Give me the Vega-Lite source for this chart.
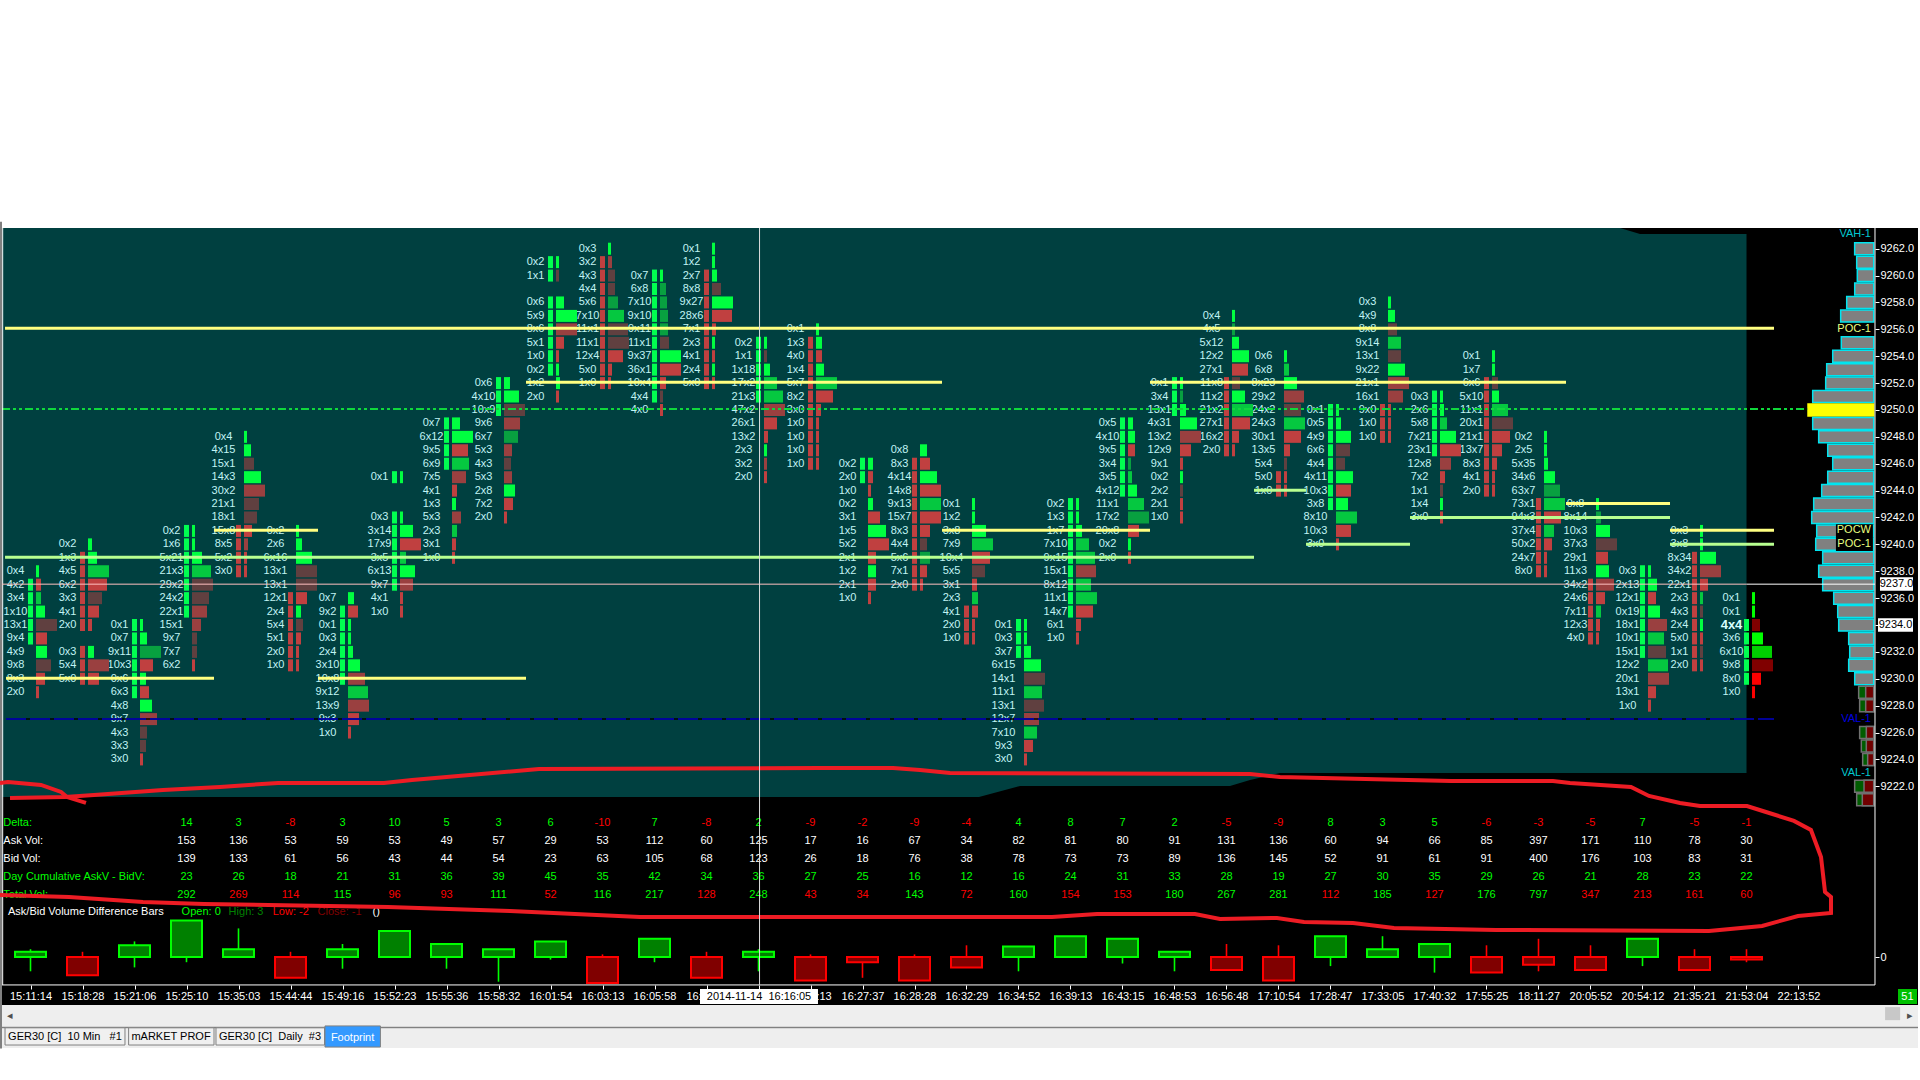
{"$schema":"https://vega.github.io/schema/vega-lite/v6.json","width":1920,"height":1080,"padding":0,"autosize":"none","background":"white",
"config":{"view":{"stroke":null},"text":{"font":"Liberation Sans","fontSize":11},"axis":{"labelFont":"Liberation Sans","labelFontSize":11,"labelColor":"#ffffff","tickColor":"#ffffff","title":null,"grid":false,"domain":false}},
"datasets":{
"chrome":[{"b":-0.587,"e":-0.548,"p":9264,"p2":9202.5,"k":"edge"},{"b":-0.548,"e":36.298,"p":9263.54,"p2":9205.73,"k":"panel"},{"b":-0.548,"e":36.298,"p":9205.73,"p2":9204.1,"k":"scroll"},{"b":-0.548,"e":36.298,"p":9204.1,"p2":9203.98,"k":"edge"},{"b":-0.548,"e":36.298,"p":9203.98,"p2":9202.53,"k":"scroll"},{"b":35.665,"e":35.954,"p":9205.57,"p2":9204.6,"k":"thumb"},{"b":35.913,"e":36.279,"p":9206.92,"p2":9205.8,"k":"count"}],
"teal":[{"b":-0.548,"p":9263.54,"p2":9221.2},{"b":18.24,"p":9263.54,"p2":9221.2},{"b":19.029,"p":9263.54,"p2":9222.02},{"b":23.067,"p":9263.54,"p2":9222.02},{"b":23.452,"p":9263.54,"p2":9222.46},{"b":24.029,"p":9263.54,"p2":9222.99},{"b":30.567,"p":9263.54,"p2":9222.99},{"b":30.952,"p":9263.09,"p2":9222.99},{"b":33.0,"p":9263.09,"p2":9222.99}],
"tabs":[{"b":-0.49,"e":1.817,"p":9204.03,"p2":9202.75,"k":"tab"},{"b":1.887,"e":3.529,"p":9204.03,"p2":9202.75,"k":"tab"},{"b":3.567,"e":5.654,"p":9204.03,"p2":9202.75,"k":"tab"},{"b":5.663,"e":6.729,"p":9204.17,"p2":9202.6,"k":"active"}],
"notes":[{"b":0.663,"p":9203.35,"t":"GER30 [C]\u00a0\u00a010 Min\u00a0\u00a0\u00a0#1","k":"black"},{"b":2.702,"p":9203.35,"t":"mARKET PROF","k":"black"},{"b":4.606,"p":9203.35,"t":"GER30 [C]\u00a0\u00a0Daily\u00a0\u00a0#3","k":"black"},{"b":6.194,"p":9203.3,"t":"Footprint","k":"white"},{"b":-0.394,"p":9204.91,"t":"◂","k":"gray"},{"b":36.144,"p":9204.91,"t":"▸","k":"gray"},{"b":36.096,"p":9206.35,"t":"51","k":"white"},{"b":12.76,"p":9206.35,"t":"16:","k":"white"},{"b":15.26,"p":9206.35,"t":":13","k":"white"}],
"profile":[{"b":35.08,"p":9262,"k":"vol"},{"b":35.119,"p":9261,"k":"vol"},{"b":35.131,"p":9260,"k":"vol"},{"b":35.081,"p":9259,"k":"vol"},{"b":34.927,"p":9258,"k":"vol"},{"b":34.811,"p":9257,"k":"vol"},{"b":34.823,"p":9255,"k":"vol"},{"b":34.658,"p":9254,"k":"vol"},{"b":34.542,"p":9253,"k":"vol"},{"b":34.523,"p":9252,"k":"vol"},{"b":34.273,"p":9251,"k":"vol"},{"b":34.183,"p":9250,"k":"poc"},{"b":34.273,"p":9249,"k":"vol"},{"b":34.388,"p":9248,"k":"vol"},{"b":34.562,"p":9247,"k":"vol"},{"b":34.658,"p":9246,"k":"vol"},{"b":34.562,"p":9245,"k":"vol"},{"b":34.446,"p":9244,"k":"vol"},{"b":34.292,"p":9243,"k":"vol"},{"b":34.254,"p":9242,"k":"vol"},{"b":34.35,"p":9241,"k":"vol"},{"b":34.331,"p":9240,"k":"vol"},{"b":34.465,"p":9239,"k":"vol"},{"b":34.388,"p":9238,"k":"vol"},{"b":34.465,"p":9237,"k":"vol"},{"b":34.677,"p":9236,"k":"vol"},{"b":34.754,"p":9235,"k":"vol"},{"b":34.773,"p":9234,"k":"vol"},{"b":34.965,"p":9233,"k":"vol"},{"b":34.985,"p":9232,"k":"vol"},{"b":34.965,"p":9231,"k":"vol"},{"b":35.081,"p":9230,"k":"vol"},
{"b":35.157,"p":9229,"k":"ask"},{"b":35.292,"p":9229,"k":"bid"},{"b":35.176,"p":9228,"k":"ask"},{"b":35.292,"p":9228,"k":"bid"},{"b":35.176,"p":9226,"k":"ask"},{"b":35.304,"p":9226,"k":"bid"},{"b":35.208,"p":9225,"k":"ask"},{"b":35.304,"p":9225,"k":"bid"},{"b":35.234,"p":9224,"k":"ask"},{"b":35.33,"p":9224,"k":"bid"},{"b":35.08,"p":9222,"k":"ask"},{"b":35.26,"p":9222,"k":"bid"},{"b":35.119,"p":9221,"k":"ask"},{"b":35.227,"p":9221,"k":"bid"}],
"covers":[{"b":34.72,"e":35.43,"p":9241.5,"p2":9239.5}],
"proflabels":[{"b":35.394,"p":9263.11,"t":"VAH-1","k":"cyan"},{"b":35.394,"p":9256.06,"t":"POC-1","k":"yellow"},{"b":35.394,"p":9241.1,"t":"POCW","k":"yellow"},{"b":35.394,"p":9240,"t":"POC-1","k":"yellow"},{"b":35.394,"p":9227,"t":"VAL-1","k":"blue"},{"b":35.394,"p":9223,"t":"VAL-1","k":"cyan"}],
"fp":[
{"b":0,"p":9238,"t":"0x4","e":0.058,"s":"g1"},{"b":0,"p":9237,"t":"4x2","e":0.096,"s":"r1","k":"u"},{"b":0,"p":9236,"t":"3x4","e":0.096,"s":"g2","k":"u"},{"b":0,"p":9235,"t":"1x10","e":0.173,"s":"g1","k":"u"},{"b":0,"p":9234,"t":"13x11","e":0.404,"s":"r3","k":"u"},{"b":0,"p":9233,"t":"9x4","e":0.212,"s":"r1","k":"u"},{"b":0,"p":9232,"t":"4x9","e":0.212,"s":"g1"},{"b":0,"p":9231,"t":"9x8","e":0.288,"s":"r3"},{"b":0,"p":9230,"t":"8x3","e":0.173,"s":"r1"},{"b":0,"p":9229,"t":"2x0","e":0.058,"s":"r1"},
{"b":1,"p":9240,"t":"0x2","e":1.077,"s":"g1"},{"b":1,"p":9239,"t":"1x3","e":1.173,"s":"g1","k":"d"},{"b":1,"p":9238,"t":"4x5","e":1.404,"s":"g2","k":"d"},{"b":1,"p":9237,"t":"6x2","e":1.365,"s":"r1","k":"d"},{"b":1,"p":9236,"t":"3x3","e":1.269,"s":"r3","k":"d"},{"b":1,"p":9235,"t":"4x1","e":1.212,"s":"r1","k":"d"},{"b":1,"p":9234,"t":"2x0","e":1.077,"s":"r1","k":"d"},{"b":1,"p":9232,"t":"0x3","e":1.115,"s":"g1","k":"d"},{"b":1,"p":9231,"t":"5x4","e":1.404,"s":"r2","k":"d"},{"b":1,"p":9230,"t":"5x0","e":1.212,"s":"r1","k":"d"},
{"b":2,"p":9234,"t":"0x1","e":2.058,"s":"g1","k":"u"},{"b":2,"p":9233,"t":"0x7","e":2.135,"s":"g1","k":"u"},{"b":2,"p":9232,"t":"9x11","e":2.404,"s":"g3","k":"u"},{"b":2,"p":9231,"t":"10x3","e":2.25,"s":"r1","k":"u"},{"b":2,"p":9230,"t":"0x6","e":2.115,"s":"g1","k":"u"},{"b":2,"p":9229,"t":"6x3","e":2.173,"s":"r1","k":"u"},{"b":2,"p":9228,"t":"4x8","e":2.231,"s":"g1"},{"b":2,"p":9227,"t":"9x7","e":2.327,"s":"r2"},{"b":2,"p":9226,"t":"4x3","e":2.135,"s":"r3"},{"b":2,"p":9225,"t":"3x3","e":2.115,"s":"r3"},{"b":2,"p":9224,"t":"3x0","e":2.058,"s":"r1"},
{"b":3,"p":9241,"t":"0x2","e":3.058,"s":"g1","k":"u"},{"b":3,"p":9240,"t":"1x6","e":3.058,"s":"g1","k":"u"},{"b":3,"p":9239,"t":"5x21","e":3.192,"s":"g1","k":"u"},{"b":3,"p":9238,"t":"21x30","e":3.365,"s":"g2","k":"u"},{"b":3,"p":9237,"t":"29x26","e":3.404,"s":"r3","k":"u"},{"b":3,"p":9236,"t":"24x22","e":3.327,"s":"r3","k":"u"},{"b":3,"p":9235,"t":"22x17","e":3.288,"s":"r2","k":"u"},{"b":3,"p":9234,"t":"15x11","e":3.173,"s":"r2"},{"b":3,"p":9233,"t":"9x7","e":3.096,"s":"r3"},{"b":3,"p":9232,"t":"7x7","e":3.096,"s":"r3"},{"b":3,"p":9231,"t":"6x2","e":3.058,"s":"r1"},
{"b":4,"p":9248,"t":"0x4","e":4.058,"s":"g1"},{"b":4,"p":9247,"t":"4x15","e":4.135,"s":"g1"},{"b":4,"p":9246,"t":"15x13","e":4.192,"s":"r3"},{"b":4,"p":9245,"t":"14x30","e":4.327,"s":"g1"},{"b":4,"p":9244,"t":"30x24","e":4.404,"s":"r2"},{"b":4,"p":9243,"t":"21x18","e":4.288,"s":"r3"},{"b":4,"p":9242,"t":"18x17","e":4.25,"s":"r3"},{"b":4,"p":9241,"t":"15x8","e":4.154,"s":"r1","k":"d"},{"b":4,"p":9240,"t":"8x5","e":4.077,"s":"r2","k":"d"},{"b":4,"p":9239,"t":"5x2","e":4.058,"s":"r1","k":"d"},{"b":4,"p":9238,"t":"3x0","e":4.058,"s":"r1","k":"d"},
{"b":5,"p":9241,"t":"0x2","e":5.058,"s":"g1"},{"b":5,"p":9240,"t":"2x6","e":5.115,"s":"g1"},{"b":5,"p":9239,"t":"6x16","e":5.308,"s":"g1"},{"b":5,"p":9238,"t":"13x11","e":5.404,"s":"r3"},{"b":5,"p":9237,"t":"13x11","e":5.404,"s":"r3"},{"b":5,"p":9236,"t":"12x1","e":5.212,"s":"r1","k":"d"},{"b":5,"p":9235,"t":"2x4","e":5.096,"s":"g1","k":"d"},{"b":5,"p":9234,"t":"5x4","e":5.135,"s":"r3","k":"d"},{"b":5,"p":9233,"t":"5x1","e":5.096,"s":"r1","k":"d"},{"b":5,"p":9232,"t":"2x0","e":5.058,"s":"r1","k":"d"},{"b":5,"p":9231,"t":"1x0","e":5.058,"s":"r1","k":"d"},
{"b":6,"p":9236,"t":"0x7","e":6.115,"s":"g1"},{"b":6,"p":9235,"t":"9x2","e":6.192,"s":"r1","k":"u"},{"b":6,"p":9234,"t":"0x1","e":6.058,"s":"g1","k":"u"},{"b":6,"p":9233,"t":"0x3","e":6.058,"s":"g1","k":"u"},{"b":6,"p":9232,"t":"2x4","e":6.096,"s":"g1","k":"u"},{"b":6,"p":9231,"t":"3x10","e":6.231,"s":"g1","k":"u"},{"b":6,"p":9230,"t":"10x8","e":6.327,"s":"r2","k":"u"},{"b":6,"p":9229,"t":"9x12","e":6.385,"s":"g2"},{"b":6,"p":9228,"t":"13x9","e":6.404,"s":"r2"},{"b":6,"p":9227,"t":"9x3","e":6.212,"s":"r1"},{"b":6,"p":9226,"t":"1x0","e":6.058,"s":"r1"},
{"b":7,"p":9245,"t":"0x1","e":7.058,"s":"g1","k":"u"},{"b":7,"p":9242,"t":"0x3","e":7.058,"s":"g1","k":"u"},{"b":7,"p":9241,"t":"3x14","e":7.25,"s":"g1","k":"u"},{"b":7,"p":9240,"t":"17x9","e":7.404,"s":"r1","k":"u"},{"b":7,"p":9239,"t":"3x5","e":7.115,"s":"g2","k":"u"},{"b":7,"p":9238,"t":"6x13","e":7.288,"s":"g1","k":"u"},{"b":7,"p":9237,"t":"9x7","e":7.25,"s":"r2","k":"u"},{"b":7,"p":9236,"t":"4x1","e":7.058,"s":"r1"},{"b":7,"p":9235,"t":"1x0","e":7.058,"s":"r1"},
{"b":8,"p":9249,"t":"0x7","e":8.154,"s":"g1","k":"u"},{"b":8,"p":9248,"t":"6x12","e":8.404,"s":"g1","k":"u"},{"b":8,"p":9247,"t":"9x5","e":8.308,"s":"r1","k":"u"},{"b":8,"p":9246,"t":"6x9","e":8.327,"s":"g2","k":"u"},{"b":8,"p":9245,"t":"7x5","e":8.269,"s":"r2"},{"b":8,"p":9244,"t":"4x1","e":8.096,"s":"r1"},{"b":8,"p":9243,"t":"1x3","e":8.077,"s":"g1"},{"b":8,"p":9242,"t":"5x3","e":8.173,"s":"r2"},{"b":8,"p":9241,"t":"2x3","e":8.096,"s":"g2"},{"b":8,"p":9240,"t":"3x1","e":8.077,"s":"r1"},{"b":8,"p":9239,"t":"1x0","e":8.058,"s":"r1"},
{"b":9,"p":9252,"t":"0x6","e":9.115,"s":"g1","k":"u"},{"b":9,"p":9251,"t":"4x10","e":9.288,"s":"g1","k":"u"},{"b":9,"p":9250,"t":"10x9","e":9.404,"s":"r3","k":"u"},{"b":9,"p":9249,"t":"9x6","e":9.308,"s":"r2"},{"b":9,"p":9248,"t":"6x7","e":9.269,"s":"g3"},{"b":9,"p":9247,"t":"5x3","e":9.154,"s":"r2"},{"b":9,"p":9246,"t":"4x3","e":9.135,"s":"r3"},{"b":9,"p":9245,"t":"5x3","e":9.154,"s":"r2"},{"b":9,"p":9244,"t":"2x8","e":9.212,"s":"g1"},{"b":9,"p":9243,"t":"7x2","e":9.173,"s":"r1"},{"b":9,"p":9242,"t":"2x0","e":9.058,"s":"r1"},
{"b":10,"p":9261,"t":"0x2","e":10.058,"s":"g1","k":"u"},{"b":10,"p":9260,"t":"1x1","e":10.058,"s":"r3","k":"u"},{"b":10,"p":9258,"t":"0x6","e":10.154,"s":"g1","k":"u"},{"b":10,"p":9257,"t":"5x9","e":10.404,"s":"g1","k":"u"},{"b":10,"p":9256,"t":"8x6","e":10.404,"s":"r2","k":"u"},{"b":10,"p":9255,"t":"5x1","e":10.154,"s":"r1","k":"u"},{"b":10,"p":9254,"t":"1x0","e":10.058,"s":"r1","k":"u"},{"b":10,"p":9253,"t":"0x2","e":10.058,"s":"g1","k":"u"},{"b":10,"p":9252,"t":"1x2","e":10.077,"s":"g1"},{"b":10,"p":9251,"t":"2x0","e":10.058,"s":"r1"},
{"b":11,"p":9262,"t":"0x3","e":11.058,"s":"g1"},{"b":11,"p":9261,"t":"3x2","e":11.077,"s":"r2","k":"d"},{"b":11,"p":9260,"t":"4x3","e":11.135,"s":"r3","k":"d"},{"b":11,"p":9259,"t":"4x4","e":11.135,"s":"r3","k":"d"},{"b":11,"p":9258,"t":"5x6","e":11.192,"s":"g3","k":"d"},{"b":11,"p":9257,"t":"7x10","e":11.308,"s":"g2","k":"d"},{"b":11,"p":9256,"t":"11x14","e":11.385,"s":"r3","k":"d"},{"b":11,"p":9255,"t":"11x11","e":11.404,"s":"r3","k":"d"},{"b":11,"p":9254,"t":"12x4","e":11.288,"s":"r1","k":"d"},{"b":11,"p":9253,"t":"5x0","e":11.077,"s":"r1","k":"d"},{"b":11,"p":9252,"t":"1x0","e":11.058,"s":"r1","k":"d"},
{"b":12,"p":9260,"t":"0x7","e":12.058,"s":"g1","k":"u"},{"b":12,"p":9259,"t":"6x8","e":12.115,"s":"g3","k":"u"},{"b":12,"p":9258,"t":"7x10","e":12.135,"s":"g3","k":"u"},{"b":12,"p":9257,"t":"9x10","e":12.154,"s":"g3","k":"u"},{"b":12,"p":9256,"t":"9x11","e":12.154,"s":"g3","k":"u"},{"b":12,"p":9255,"t":"11x10","e":12.173,"s":"r3","k":"u"},{"b":12,"p":9254,"t":"9x37","e":12.404,"s":"g1","k":"u"},{"b":12,"p":9253,"t":"36x11","e":12.404,"s":"r1","k":"u"},{"b":12,"p":9252,"t":"10x4","e":12.115,"s":"r1","k":"u"},{"b":12,"p":9251,"t":"4x4","e":12.058,"s":"r3","k":"u"},{"b":12,"p":9250,"t":"4x0","e":12.058,"s":"r1"},
{"b":13,"p":9262,"t":"0x1","e":13.058,"s":"g1"},{"b":13,"p":9261,"t":"1x2","e":13.058,"s":"g1"},{"b":13,"p":9260,"t":"2x7","e":13.096,"s":"g1","k":"d"},{"b":13,"p":9259,"t":"8x8","e":13.173,"s":"r3","k":"d"},{"b":13,"p":9258,"t":"9x27","e":13.404,"s":"g1","k":"d"},{"b":13,"p":9257,"t":"28x6","e":13.385,"s":"r1","k":"d"},{"b":13,"p":9256,"t":"7x1","e":13.077,"s":"r1","k":"d"},{"b":13,"p":9255,"t":"2x3","e":13.058,"s":"g1","k":"d"},{"b":13,"p":9254,"t":"4x1","e":13.058,"s":"r1","k":"d"},{"b":13,"p":9253,"t":"2x4","e":13.058,"s":"g1","k":"d"},{"b":13,"p":9252,"t":"5x0","e":13.058,"s":"r1","k":"d"},
{"b":14,"p":9255,"t":"0x2","e":14.058,"s":"g1","k":"u"},{"b":14,"p":9254,"t":"1x1","e":14.058,"s":"r3","k":"u"},{"b":14,"p":9253,"t":"1x18","e":14.115,"s":"g1","k":"u"},{"b":14,"p":9252,"t":"17x21","e":14.25,"s":"g2","k":"u"},{"b":14,"p":9251,"t":"21x36","e":14.365,"s":"g2","k":"u"},{"b":14,"p":9250,"t":"47x26","e":14.404,"s":"r2"},{"b":14,"p":9249,"t":"26x13","e":14.25,"s":"r1"},{"b":14,"p":9248,"t":"13x2","e":14.077,"s":"r1"},{"b":14,"p":9247,"t":"2x3","e":14.058,"s":"g1"},{"b":14,"p":9246,"t":"3x2","e":14.058,"s":"r2"},{"b":14,"p":9245,"t":"2x0","e":14.058,"s":"r1"},
{"b":15,"p":9256,"t":"0x1","e":15.058,"s":"g1"},{"b":15,"p":9255,"t":"1x3","e":15.115,"s":"g1","k":"d"},{"b":15,"p":9254,"t":"4x0","e":15.115,"s":"r1","k":"d"},{"b":15,"p":9253,"t":"1x4","e":15.154,"s":"g1","k":"d"},{"b":15,"p":9252,"t":"5x7","e":15.404,"s":"g2","k":"d"},{"b":15,"p":9251,"t":"8x2","e":15.327,"s":"r1","k":"d"},{"b":15,"p":9250,"t":"3x0","e":15.096,"s":"r1","k":"d"},{"b":15,"p":9249,"t":"1x0","e":15.058,"s":"r1","k":"d"},{"b":15,"p":9248,"t":"1x0","e":15.058,"s":"r1","k":"d"},{"b":15,"p":9247,"t":"1x0","e":15.058,"s":"r1","k":"d"},{"b":15,"p":9246,"t":"1x0","e":15.058,"s":"r1","k":"d"},
{"b":16,"p":9246,"t":"0x2","e":16.096,"s":"g1","k":"u"},{"b":16,"p":9245,"t":"2x0","e":16.096,"s":"r1","k":"u"},{"b":16,"p":9244,"t":"1x0","e":16.058,"s":"r1"},{"b":16,"p":9243,"t":"0x2","e":16.096,"s":"g1"},{"b":16,"p":9242,"t":"3x1","e":16.231,"s":"r1"},{"b":16,"p":9241,"t":"1x5","e":16.346,"s":"g1"},{"b":16,"p":9240,"t":"5x2","e":16.404,"s":"r1"},{"b":16,"p":9239,"t":"2x1","e":16.154,"s":"r1"},{"b":16,"p":9238,"t":"1x2","e":16.154,"s":"g1"},{"b":16,"p":9237,"t":"2x1","e":16.154,"s":"r1"},{"b":16,"p":9236,"t":"1x0","e":16.058,"s":"r1"},
{"b":17,"p":9247,"t":"0x8","e":17.135,"s":"g1"},{"b":17,"p":9246,"t":"8x3","e":17.192,"s":"r1","k":"d"},{"b":17,"p":9245,"t":"4x14","e":17.327,"s":"g1","k":"d"},{"b":17,"p":9244,"t":"14x8","e":17.404,"s":"r1","k":"d"},{"b":17,"p":9243,"t":"9x13","e":17.404,"s":"g2","k":"d"},{"b":17,"p":9242,"t":"15x7","e":17.404,"s":"r1","k":"d"},{"b":17,"p":9241,"t":"8x3","e":17.192,"s":"r1","k":"d"},{"b":17,"p":9240,"t":"4x4","e":17.135,"s":"r3","k":"d"},{"b":17,"p":9239,"t":"5x6","e":17.192,"s":"g3","k":"d"},{"b":17,"p":9238,"t":"7x1","e":17.135,"s":"r1","k":"d"},{"b":17,"p":9237,"t":"2x0","e":17.058,"s":"r1","k":"d"},
{"b":18,"p":9243,"t":"0x1","e":18.058,"s":"g1"},{"b":18,"p":9242,"t":"1x2","e":18.058,"s":"g1"},{"b":18,"p":9241,"t":"3x8","e":18.269,"s":"g1"},{"b":18,"p":9240,"t":"7x9","e":18.404,"s":"g2"},{"b":18,"p":9239,"t":"10x4","e":18.346,"s":"r1"},{"b":18,"p":9238,"t":"5x5","e":18.25,"s":"r3"},{"b":18,"p":9237,"t":"3x1","e":18.096,"s":"r1"},{"b":18,"p":9236,"t":"2x3","e":18.115,"s":"g2"},{"b":18,"p":9235,"t":"4x1","e":18.115,"s":"r1","k":"d"},{"b":18,"p":9234,"t":"2x0","e":18.058,"s":"r1","k":"d"},{"b":18,"p":9233,"t":"1x0","e":18.058,"s":"r1","k":"d"},
{"b":19,"p":9234,"t":"0x1","e":19.058,"s":"g1","k":"u"},{"b":19,"p":9233,"t":"0x3","e":19.058,"s":"g1","k":"u"},{"b":19,"p":9232,"t":"3x7","e":19.135,"s":"g1","k":"u"},{"b":19,"p":9231,"t":"6x15","e":19.327,"s":"g1"},{"b":19,"p":9230,"t":"14x12","e":19.404,"s":"r3"},{"b":19,"p":9229,"t":"11x12","e":19.346,"s":"g2"},{"b":19,"p":9228,"t":"13x12","e":19.385,"s":"r3"},{"b":19,"p":9227,"t":"12x7","e":19.288,"s":"r2"},{"b":19,"p":9226,"t":"7x10","e":19.25,"s":"g2"},{"b":19,"p":9225,"t":"9x3","e":19.173,"s":"r1"},{"b":19,"p":9224,"t":"3x0","e":19.058,"s":"r1"},
{"b":20,"p":9243,"t":"0x2","e":20.058,"s":"g1","k":"u"},{"b":20,"p":9242,"t":"1x3","e":20.058,"s":"g1","k":"u"},{"b":20,"p":9241,"t":"1x7","e":20.115,"s":"g1","k":"u"},{"b":20,"p":9240,"t":"7x10","e":20.25,"s":"g2","k":"u"},{"b":20,"p":9239,"t":"9x15","e":20.365,"s":"g2","k":"u"},{"b":20,"p":9238,"t":"15x10","e":20.385,"s":"r2","k":"u"},{"b":20,"p":9237,"t":"8x12","e":20.288,"s":"g2","k":"u"},{"b":20,"p":9236,"t":"11x15","e":20.404,"s":"g2","k":"u"},{"b":20,"p":9235,"t":"14x7","e":20.327,"s":"r1","k":"u"},{"b":20,"p":9234,"t":"6x1","e":20.096,"s":"r1"},{"b":20,"p":9233,"t":"1x0","e":20.058,"s":"r1"},
{"b":21,"p":9249,"t":"0x5","e":21.096,"s":"g1","k":"u"},{"b":21,"p":9248,"t":"4x10","e":21.135,"s":"g1","k":"u"},{"b":21,"p":9247,"t":"9x5","e":21.135,"s":"r1","k":"u"},{"b":21,"p":9246,"t":"3x4","e":21.058,"s":"g3","k":"u"},{"b":21,"p":9245,"t":"3x5","e":21.077,"s":"g2","k":"u"},{"b":21,"p":9244,"t":"4x12","e":21.173,"s":"g1","k":"u"},{"b":21,"p":9243,"t":"11x17","e":21.308,"s":"g2"},{"b":21,"p":9242,"t":"17x20","e":21.404,"s":"g3"},{"b":21,"p":9241,"t":"20x8","e":21.212,"s":"r1"},{"b":21,"p":9240,"t":"0x2","e":21.058,"s":"g1"},{"b":21,"p":9239,"t":"2x0","e":21.058,"s":"r1"},
{"b":22,"p":9252,"t":"0x1","e":22.058,"s":"g1","k":"u"},{"b":22,"p":9251,"t":"3x4","e":22.058,"s":"g3","k":"u"},{"b":22,"p":9250,"t":"13x15","e":22.115,"s":"g1","k":"u"},{"b":22,"p":9249,"t":"4x31","e":22.327,"s":"g1"},{"b":22,"p":9248,"t":"13x22","e":22.404,"s":"r2"},{"b":22,"p":9247,"t":"12x9","e":22.212,"s":"r1"},{"b":22,"p":9246,"t":"9x1","e":22.058,"s":"r1"},{"b":22,"p":9245,"t":"0x2","e":22.058,"s":"g1"},{"b":22,"p":9244,"t":"2x2","e":22.058,"s":"r3"},{"b":22,"p":9243,"t":"2x1","e":22.058,"s":"r1"},{"b":22,"p":9242,"t":"1x0","e":22.058,"s":"r1"},
{"b":23,"p":9257,"t":"0x4","e":23.058,"s":"g1"},{"b":23,"p":9256,"t":"4x5","e":23.058,"s":"g3"},{"b":23,"p":9255,"t":"5x12","e":23.135,"s":"g1"},{"b":23,"p":9254,"t":"12x27","e":23.327,"s":"g1"},{"b":23,"p":9253,"t":"27x11","e":23.308,"s":"r1"},{"b":23,"p":9252,"t":"11x8","e":23.154,"s":"r3","k":"d"},{"b":23,"p":9251,"t":"11x20","e":23.25,"s":"g1","k":"d"},{"b":23,"p":9250,"t":"21x27","e":23.404,"s":"g2","k":"d"},{"b":23,"p":9249,"t":"27x14","e":23.346,"s":"r1","k":"d"},{"b":23,"p":9248,"t":"16x2","e":23.135,"s":"r1","k":"d"},{"b":23,"p":9247,"t":"2x0","e":23.058,"s":"r1","k":"d"},
{"b":24,"p":9254,"t":"0x6","e":24.058,"s":"g1"},{"b":24,"p":9253,"t":"6x8","e":24.096,"s":"g2"},{"b":24,"p":9252,"t":"8x23","e":24.25,"s":"g1"},{"b":24,"p":9251,"t":"29x23","e":24.385,"s":"r2"},{"b":24,"p":9250,"t":"24x20","e":24.327,"s":"r3"},{"b":24,"p":9249,"t":"24x30","e":24.404,"s":"g2"},{"b":24,"p":9248,"t":"30x13","e":24.327,"s":"r1"},{"b":24,"p":9247,"t":"13x5","e":24.115,"s":"r1"},{"b":24,"p":9246,"t":"5x4","e":24.058,"s":"r3"},{"b":24,"p":9245,"t":"5x0","e":24.058,"s":"r1","k":"d"},{"b":24,"p":9244,"t":"1x0","e":24.058,"s":"r1","k":"d"},
{"b":25,"p":9250,"t":"0x1","e":25.058,"s":"g1","k":"u"},{"b":25,"p":9249,"t":"0x5","e":25.096,"s":"g1","k":"u"},{"b":25,"p":9248,"t":"4x9","e":25.288,"s":"g1","k":"u"},{"b":25,"p":9247,"t":"6x6","e":25.269,"s":"r3","k":"u"},{"b":25,"p":9246,"t":"4x4","e":25.173,"s":"r3","k":"u"},{"b":25,"p":9245,"t":"4x11","e":25.327,"s":"g1","k":"u"},{"b":25,"p":9244,"t":"10x3","e":25.288,"s":"r1","k":"u"},{"b":25,"p":9243,"t":"3x8","e":25.231,"s":"g1","k":"u"},{"b":25,"p":9242,"t":"8x10","e":25.404,"s":"g2"},{"b":25,"p":9241,"t":"10x3","e":25.288,"s":"r1"},{"b":25,"p":9240,"t":"3x0","e":25.058,"s":"r1"},
{"b":26,"p":9258,"t":"0x3","e":26.058,"s":"g1"},{"b":26,"p":9257,"t":"4x9","e":26.135,"s":"g1"},{"b":26,"p":9256,"t":"8x8","e":26.173,"s":"r3"},{"b":26,"p":9255,"t":"9x14","e":26.25,"s":"g2"},{"b":26,"p":9254,"t":"13x11","e":26.25,"s":"r3"},{"b":26,"p":9253,"t":"9x22","e":26.327,"s":"g1"},{"b":26,"p":9252,"t":"21x14","e":26.404,"s":"r2"},{"b":26,"p":9251,"t":"16x11","e":26.288,"s":"r2"},{"b":26,"p":9250,"t":"9x0","e":26.058,"s":"r1","k":"d"},{"b":26,"p":9249,"t":"1x0","e":26.058,"s":"r1","k":"d"},{"b":26,"p":9248,"t":"1x0","e":26.058,"s":"r1","k":"d"},
{"b":27,"p":9251,"t":"0x3","e":27.058,"s":"g1","k":"u"},{"b":27,"p":9250,"t":"2x6","e":27.077,"s":"g1","k":"u"},{"b":27,"p":9249,"t":"5x8","e":27.135,"s":"g2","k":"u"},{"b":27,"p":9248,"t":"7x21","e":27.308,"s":"g1","k":"u"},{"b":27,"p":9247,"t":"23x13","e":27.404,"s":"r1","k":"u"},{"b":27,"p":9246,"t":"12x8","e":27.212,"s":"r2"},{"b":27,"p":9245,"t":"7x2","e":27.096,"s":"r1"},{"b":27,"p":9244,"t":"1x1","e":27.058,"s":"r3"},{"b":27,"p":9243,"t":"1x4","e":27.058,"s":"g1"},{"b":27,"p":9242,"t":"3x0","e":27.058,"s":"r1"},
{"b":28,"p":9254,"t":"0x1","e":28.058,"s":"g1"},{"b":28,"p":9253,"t":"1x7","e":28.058,"s":"g1"},{"b":28,"p":9252,"t":"6x6","e":28.115,"s":"r3","k":"d"},{"b":28,"p":9251,"t":"5x10","e":28.135,"s":"g1","k":"d"},{"b":28,"p":9250,"t":"11x19","e":28.308,"s":"g2","k":"d"},{"b":28,"p":9249,"t":"20x19","e":28.404,"s":"r3","k":"d"},{"b":28,"p":9248,"t":"21x12","e":28.346,"s":"r1","k":"d"},{"b":28,"p":9247,"t":"13x7","e":28.192,"s":"r1","k":"d"},{"b":28,"p":9246,"t":"8x3","e":28.096,"s":"r1","k":"d"},{"b":28,"p":9245,"t":"4x1","e":28.058,"s":"r1","k":"d"},{"b":28,"p":9244,"t":"2x0","e":28.058,"s":"r1","k":"d"},
{"b":29,"p":9248,"t":"0x2","e":29.058,"s":"g1"},{"b":29,"p":9247,"t":"2x5","e":29.058,"s":"g1"},{"b":29,"p":9246,"t":"5x35","e":29.077,"s":"g1"},{"b":29,"p":9245,"t":"34x65","e":29.212,"s":"g1"},{"b":29,"p":9244,"t":"63x73","e":29.308,"s":"g3"},{"b":29,"p":9243,"t":"73x100","e":29.404,"s":"g2","k":"d"},{"b":29,"p":9242,"t":"94x34","e":29.327,"s":"r1","k":"d"},{"b":29,"p":9241,"t":"37x49","e":29.192,"s":"g2","k":"d"},{"b":29,"p":9240,"t":"50x23","e":29.154,"s":"r1","k":"d"},{"b":29,"p":9239,"t":"24x7","e":29.058,"s":"r1","k":"d"},{"b":29,"p":9238,"t":"8x0","e":29.058,"s":"r1","k":"d"},
{"b":30,"p":9243,"t":"0x8","e":30.058,"s":"g1"},{"b":30,"p":9242,"t":"8x14","e":30.096,"s":"g3"},{"b":30,"p":9241,"t":"10x37","e":30.269,"s":"g1"},{"b":30,"p":9240,"t":"37x30","e":30.404,"s":"r3"},{"b":30,"p":9239,"t":"29x10","e":30.231,"s":"r1"},{"b":30,"p":9238,"t":"11x33","e":30.25,"s":"g1"},{"b":30,"p":9237,"t":"34x23","e":30.346,"s":"r2","k":"d"},{"b":30,"p":9236,"t":"24x6","e":30.173,"s":"r1","k":"d"},{"b":30,"p":9235,"t":"7x11","e":30.096,"s":"g2","k":"d"},{"b":30,"p":9234,"t":"12x3","e":30.077,"s":"r1","k":"d"},{"b":30,"p":9233,"t":"4x0","e":30.058,"s":"r1","k":"d"},
{"b":31,"p":9238,"t":"0x3","e":31.058,"s":"g1","k":"u"},{"b":31,"p":9237,"t":"2x13","e":31.173,"s":"g1","k":"u"},{"b":31,"p":9236,"t":"12x1","e":31.154,"s":"r1","k":"u"},{"b":31,"p":9235,"t":"0x19","e":31.231,"s":"g1","k":"u"},{"b":31,"p":9234,"t":"18x12","e":31.365,"s":"r2","k":"u"},{"b":31,"p":9233,"t":"10x15","e":31.308,"s":"g2","k":"u"},{"b":31,"p":9232,"t":"15x13","e":31.346,"s":"r3","k":"u"},{"b":31,"p":9231,"t":"12x20","e":31.385,"s":"g2"},{"b":31,"p":9230,"t":"20x13","e":31.404,"s":"r2"},{"b":31,"p":9229,"t":"13x1","e":31.154,"s":"r1"},{"b":31,"p":9228,"t":"1x0","e":31.058,"s":"r1"},
{"b":32,"p":9241,"t":"0x3","e":32.058,"s":"g1"},{"b":32,"p":9240,"t":"3x8","e":32.058,"s":"g1"},{"b":32,"p":9239,"t":"8x34","e":32.308,"s":"g1","k":"d"},{"b":32,"p":9238,"t":"34x21","e":32.404,"s":"r2","k":"d"},{"b":32,"p":9237,"t":"22x1","e":32.154,"s":"r1","k":"d"},{"b":32,"p":9236,"t":"2x3","e":32.058,"s":"g2","k":"d"},{"b":32,"p":9235,"t":"4x3","e":32.058,"s":"r3","k":"d"},{"b":32,"p":9234,"t":"2x4","e":32.058,"s":"g1","k":"d"},{"b":32,"p":9233,"t":"5x0","e":32.058,"s":"r1","k":"d"},{"b":32,"p":9232,"t":"1x1","e":32.058,"s":"r3","k":"d"},{"b":32,"p":9231,"t":"2x0","e":32.058,"s":"r1","k":"d"},
{"b":33,"p":9236,"t":"0x1","e":33.058,"s":"g4"},{"b":33,"p":9235,"t":"0x1","e":33.058,"s":"g4"},{"b":33,"p":9234,"t":"4x4","e":33.154,"s":"r4","k":"u","big":true},{"b":33,"p":9233,"t":"3x6","e":33.212,"s":"g4","k":"u"},{"b":33,"p":9232,"t":"6x10","e":33.385,"s":"g5","k":"u"},{"b":33,"p":9231,"t":"9x8","e":33.404,"s":"r4","k":"u"},{"b":33,"p":9230,"t":"8x0","e":33.173,"s":"r5","k":"u"},{"b":33,"p":9229,"t":"1x0","e":33.058,"s":"r5"}],
"levels":[{"b":-0.49,"e":33.529,"p":9256.08,"k":"poc"},{"b":-0.49,"e":23.529,"p":9239.04,"k":"prior"},{"b":3.529,"e":5.529,"p":9241.05,"k":"poc"},{"b":-0.471,"e":3.529,"p":9230.04,"k":"poc"},{"b":5.529,"e":9.529,"p":9230.04,"k":"poc"},{"b":9.529,"e":17.529,"p":9252.06,"k":"poc"},{"b":17.529,"e":21.529,"p":9241.05,"k":"poc"},{"b":21.529,"e":29.529,"p":9252.06,"k":"poc"},{"b":29.529,"e":31.529,"p":9243.05,"k":"poc"},{"b":31.529,"e":33.529,"p":9241.05,"k":"poc"},{"b":23.529,"e":24.529,"p":9244.03,"k":"prior"},{"b":24.529,"e":26.529,"p":9240,"k":"prior"},{"b":26.529,"e":31.529,"p":9242,"k":"prior"},{"b":31.529,"e":33.529,"p":9240,"k":"prior"}],
"current":[{"b":-0.548,"e":34.17,"p":9250.07}],
"valow":[{"b":-0.471,"e":33.529,"p":9227}],
"frameh":[{"b":-0.548,"e":35.471,"p":9207.22}],
"framev":[{"b":35.471,"p":9263.54,"p2":9207.22},{"b":-0.535,"p":9263.54,"p2":9207.22}],
"table":[
{"b":3,"m":"Delta","v":"14","k":"up"},{"b":4,"m":"Delta","v":"3","k":"up"},{"b":5,"m":"Delta","v":"-8","k":"down"},{"b":6,"m":"Delta","v":"3","k":"up"},{"b":7,"m":"Delta","v":"10","k":"up"},{"b":8,"m":"Delta","v":"5","k":"up"},{"b":9,"m":"Delta","v":"3","k":"up"},{"b":10,"m":"Delta","v":"6","k":"up"},{"b":11,"m":"Delta","v":"-10","k":"down"},{"b":12,"m":"Delta","v":"7","k":"up"},{"b":13,"m":"Delta","v":"-8","k":"down"},{"b":14,"m":"Delta","v":"2","k":"up"},{"b":15,"m":"Delta","v":"-9","k":"down"},{"b":16,"m":"Delta","v":"-2","k":"down"},{"b":17,"m":"Delta","v":"-9","k":"down"},{"b":18,"m":"Delta","v":"-4","k":"down"},{"b":19,"m":"Delta","v":"4","k":"up"},{"b":20,"m":"Delta","v":"8","k":"up"},{"b":21,"m":"Delta","v":"7","k":"up"},{"b":22,"m":"Delta","v":"2","k":"up"},{"b":23,"m":"Delta","v":"-5","k":"down"},{"b":24,"m":"Delta","v":"-9","k":"down"},{"b":25,"m":"Delta","v":"8","k":"up"},{"b":26,"m":"Delta","v":"3","k":"up"},{"b":27,"m":"Delta","v":"5","k":"up"},{"b":28,"m":"Delta","v":"-6","k":"down"},{"b":29,"m":"Delta","v":"-3","k":"down"},{"b":30,"m":"Delta","v":"-5","k":"down"},{"b":31,"m":"Delta","v":"7","k":"up"},{"b":32,"m":"Delta","v":"-5","k":"down"},{"b":33,"m":"Delta","v":"-1","k":"down"},
{"b":3,"m":"Ask","v":"153","k":"flat"},{"b":4,"m":"Ask","v":"136","k":"flat"},{"b":5,"m":"Ask","v":"53","k":"flat"},{"b":6,"m":"Ask","v":"59","k":"flat"},{"b":7,"m":"Ask","v":"53","k":"flat"},{"b":8,"m":"Ask","v":"49","k":"flat"},{"b":9,"m":"Ask","v":"57","k":"flat"},{"b":10,"m":"Ask","v":"29","k":"flat"},{"b":11,"m":"Ask","v":"53","k":"flat"},{"b":12,"m":"Ask","v":"112","k":"flat"},{"b":13,"m":"Ask","v":"60","k":"flat"},{"b":14,"m":"Ask","v":"125","k":"flat"},{"b":15,"m":"Ask","v":"17","k":"flat"},{"b":16,"m":"Ask","v":"16","k":"flat"},{"b":17,"m":"Ask","v":"67","k":"flat"},{"b":18,"m":"Ask","v":"34","k":"flat"},{"b":19,"m":"Ask","v":"82","k":"flat"},{"b":20,"m":"Ask","v":"81","k":"flat"},{"b":21,"m":"Ask","v":"80","k":"flat"},{"b":22,"m":"Ask","v":"91","k":"flat"},{"b":23,"m":"Ask","v":"131","k":"flat"},{"b":24,"m":"Ask","v":"136","k":"flat"},{"b":25,"m":"Ask","v":"60","k":"flat"},{"b":26,"m":"Ask","v":"94","k":"flat"},{"b":27,"m":"Ask","v":"66","k":"flat"},{"b":28,"m":"Ask","v":"85","k":"flat"},{"b":29,"m":"Ask","v":"397","k":"flat"},{"b":30,"m":"Ask","v":"171","k":"flat"},{"b":31,"m":"Ask","v":"110","k":"flat"},{"b":32,"m":"Ask","v":"78","k":"flat"},{"b":33,"m":"Ask","v":"30","k":"flat"},
{"b":3,"m":"Bid","v":"139","k":"flat"},{"b":4,"m":"Bid","v":"133","k":"flat"},{"b":5,"m":"Bid","v":"61","k":"flat"},{"b":6,"m":"Bid","v":"56","k":"flat"},{"b":7,"m":"Bid","v":"43","k":"flat"},{"b":8,"m":"Bid","v":"44","k":"flat"},{"b":9,"m":"Bid","v":"54","k":"flat"},{"b":10,"m":"Bid","v":"23","k":"flat"},{"b":11,"m":"Bid","v":"63","k":"flat"},{"b":12,"m":"Bid","v":"105","k":"flat"},{"b":13,"m":"Bid","v":"68","k":"flat"},{"b":14,"m":"Bid","v":"123","k":"flat"},{"b":15,"m":"Bid","v":"26","k":"flat"},{"b":16,"m":"Bid","v":"18","k":"flat"},{"b":17,"m":"Bid","v":"76","k":"flat"},{"b":18,"m":"Bid","v":"38","k":"flat"},{"b":19,"m":"Bid","v":"78","k":"flat"},{"b":20,"m":"Bid","v":"73","k":"flat"},{"b":21,"m":"Bid","v":"73","k":"flat"},{"b":22,"m":"Bid","v":"89","k":"flat"},{"b":23,"m":"Bid","v":"136","k":"flat"},{"b":24,"m":"Bid","v":"145","k":"flat"},{"b":25,"m":"Bid","v":"52","k":"flat"},{"b":26,"m":"Bid","v":"91","k":"flat"},{"b":27,"m":"Bid","v":"61","k":"flat"},{"b":28,"m":"Bid","v":"91","k":"flat"},{"b":29,"m":"Bid","v":"400","k":"flat"},{"b":30,"m":"Bid","v":"176","k":"flat"},{"b":31,"m":"Bid","v":"103","k":"flat"},{"b":32,"m":"Bid","v":"83","k":"flat"},{"b":33,"m":"Bid","v":"31","k":"flat"},
{"b":3,"m":"Cum","v":"23","k":"up"},{"b":4,"m":"Cum","v":"26","k":"up"},{"b":5,"m":"Cum","v":"18","k":"up"},{"b":6,"m":"Cum","v":"21","k":"up"},{"b":7,"m":"Cum","v":"31","k":"up"},{"b":8,"m":"Cum","v":"36","k":"up"},{"b":9,"m":"Cum","v":"39","k":"up"},{"b":10,"m":"Cum","v":"45","k":"up"},{"b":11,"m":"Cum","v":"35","k":"up"},{"b":12,"m":"Cum","v":"42","k":"up"},{"b":13,"m":"Cum","v":"34","k":"up"},{"b":14,"m":"Cum","v":"36","k":"up"},{"b":15,"m":"Cum","v":"27","k":"up"},{"b":16,"m":"Cum","v":"25","k":"up"},{"b":17,"m":"Cum","v":"16","k":"up"},{"b":18,"m":"Cum","v":"12","k":"up"},{"b":19,"m":"Cum","v":"16","k":"up"},{"b":20,"m":"Cum","v":"24","k":"up"},{"b":21,"m":"Cum","v":"31","k":"up"},{"b":22,"m":"Cum","v":"33","k":"up"},{"b":23,"m":"Cum","v":"28","k":"up"},{"b":24,"m":"Cum","v":"19","k":"up"},{"b":25,"m":"Cum","v":"27","k":"up"},{"b":26,"m":"Cum","v":"30","k":"up"},{"b":27,"m":"Cum","v":"35","k":"up"},{"b":28,"m":"Cum","v":"29","k":"up"},{"b":29,"m":"Cum","v":"26","k":"up"},{"b":30,"m":"Cum","v":"21","k":"up"},{"b":31,"m":"Cum","v":"28","k":"up"},{"b":32,"m":"Cum","v":"23","k":"up"},{"b":33,"m":"Cum","v":"22","k":"up"},
{"b":3,"m":"Total","v":"292","k":"up"},{"b":4,"m":"Total","v":"269","k":"down"},{"b":5,"m":"Total","v":"114","k":"down"},{"b":6,"m":"Total","v":"115","k":"up"},{"b":7,"m":"Total","v":"96","k":"down"},{"b":8,"m":"Total","v":"93","k":"down"},{"b":9,"m":"Total","v":"111","k":"up"},{"b":10,"m":"Total","v":"52","k":"down"},{"b":11,"m":"Total","v":"116","k":"up"},{"b":12,"m":"Total","v":"217","k":"up"},{"b":13,"m":"Total","v":"128","k":"down"},{"b":14,"m":"Total","v":"248","k":"up"},{"b":15,"m":"Total","v":"43","k":"down"},{"b":16,"m":"Total","v":"34","k":"down"},{"b":17,"m":"Total","v":"143","k":"up"},{"b":18,"m":"Total","v":"72","k":"down"},{"b":19,"m":"Total","v":"160","k":"up"},{"b":20,"m":"Total","v":"154","k":"down"},{"b":21,"m":"Total","v":"153","k":"down"},{"b":22,"m":"Total","v":"180","k":"up"},{"b":23,"m":"Total","v":"267","k":"up"},{"b":24,"m":"Total","v":"281","k":"up"},{"b":25,"m":"Total","v":"112","k":"down"},{"b":26,"m":"Total","v":"185","k":"up"},{"b":27,"m":"Total","v":"127","k":"down"},{"b":28,"m":"Total","v":"176","k":"up"},{"b":29,"m":"Total","v":"797","k":"up"},{"b":30,"m":"Total","v":"347","k":"down"},{"b":31,"m":"Total","v":"213","k":"down"},{"b":32,"m":"Total","v":"161","k":"down"},{"b":33,"m":"Total","v":"60","k":"down"}],
"rowlabels":[{"b":-0.523,"m":"Delta","v":"Delta:","k":"up"},{"b":-0.523,"m":"Ask","v":"Ask Vol:","k":"flat"},{"b":-0.523,"m":"Bid","v":"Bid Vol:","k":"flat"},{"b":-0.523,"m":"Cum","v":"Day Cumulative AskV - BidV:","k":"up"},{"b":-0.523,"m":"Total","v":"Total Vol:","k":"up"}],
"candles":[{"b":0,"o":0,"c":2,"h":3,"l":-5.5,"d":"up"},{"b":1,"o":0,"c":-7,"h":2,"l":-7,"d":"down"},{"b":2,"o":0,"c":4.5,"h":6,"l":-4,"d":"up"},{"b":3,"o":0,"c":14,"h":14,"l":-2,"d":"up"},{"b":4,"o":0,"c":3,"h":11,"l":0,"d":"up"},{"b":5,"o":0,"c":-8,"h":2,"l":-8,"d":"down"},{"b":6,"o":0,"c":3,"h":5,"l":-4.5,"d":"up"},{"b":7,"o":0,"c":10,"h":10,"l":0,"d":"up"},{"b":8,"o":0,"c":5,"h":5,"l":-4.5,"d":"up"},{"b":9,"o":0,"c":3,"h":3,"l":-9.5,"d":"up"},{"b":10,"o":0,"c":6,"h":6,"l":-1,"d":"up"},{"b":11,"o":0,"c":-10,"h":1,"l":-10,"d":"down"},{"b":12,"o":0,"c":7,"h":7,"l":-2,"d":"up"},{"b":13,"o":0,"c":-8,"h":2,"l":-8,"d":"down"},{"b":14,"o":0,"c":2,"h":3,"l":-5.5,"d":"up"},{"b":15,"o":0,"c":-9,"h":1,"l":-9,"d":"down"},{"b":16,"o":0,"c":-2,"h":0,"l":-8,"d":"down"},{"b":17,"o":0,"c":-9,"h":1,"l":-9,"d":"down"},{"b":18,"o":0,"c":-4,"h":4.5,"l":-4,"d":"down"},{"b":19,"o":0,"c":4,"h":4,"l":-5.5,"d":"up"},{"b":20,"o":0,"c":8,"h":8,"l":0,"d":"up"},{"b":21,"o":0,"c":7,"h":7,"l":-2.5,"d":"up"},{"b":22,"o":0,"c":2,"h":2,"l":-5.5,"d":"up"},{"b":23,"o":0,"c":-5,"h":5,"l":-5,"d":"down"},{"b":24,"o":0,"c":-9,"h":4.5,"l":-9,"d":"down"},{"b":25,"o":0,"c":8,"h":8,"l":-3.5,"d":"up"},{"b":26,"o":0,"c":3,"h":8,"l":0,"d":"up"},{"b":27,"o":0,"c":5,"h":5,"l":-6,"d":"up"},{"b":28,"o":0,"c":-6,"h":4.5,"l":-6,"d":"down"},{"b":29,"o":0,"c":-3,"h":7,"l":-5.5,"d":"down"},{"b":30,"o":0,"c":-5,"h":4.5,"l":-5,"d":"down"},{"b":31,"o":0,"c":7,"h":7,"l":-3.5,"d":"up"},{"b":32,"o":0,"c":-5,"h":3,"l":-5,"d":"down"},{"b":33,"o":0,"c":-1,"h":3,"l":-2,"d":"down"}],
"panelhead":[{"b":-0.433,"p":9212.65,"t":"Ask/Bid Volume Difference Bars","k":"white"},{"b":2.906,"p":9212.65,"t":"Open: 0","k":"green"},{"b":3.81,"p":9212.65,"t":"High: 3","k":"dkgreen"},{"b":4.658,"p":9212.65,"t":"Low: -2","k":"red"},{"b":5.521,"p":9212.65,"t":"Close: -1","k":"dkred"},{"b":6.579,"p":9212.65,"t":"()","k":"white"}],
"curve":[{"g":"tail","o":0,"b":-0.587,"p":9222.25},{"g":"tail","o":1,"b":-0.433,"p":9222.32},{"g":"tail","o":2,"b":0.202,"p":9222.1},{"g":"tail","o":3,"b":0.587,"p":9221.58},{"g":"tail","o":4,"b":0.702,"p":9221.2},{"g":"tail","o":5,"b":1.067,"p":9220.76},
{"g":"loop","o":0,"b":-0.394,"p":9221.13},{"g":"loop","o":1,"b":0.663,"p":9221.2},{"g":"loop","o":2,"b":1.221,"p":9221.35},{"g":"loop","o":3,"b":2.548,"p":9221.72},{"g":"loop","o":4,"b":3.644,"p":9221.95},{"g":"loop","o":5,"b":4.76,"p":9222.25},{"g":"loop","o":6,"b":6.798,"p":9222.25},{"g":"loop","o":7,"b":7.337,"p":9222.47},{"g":"loop","o":8,"b":9.779,"p":9223.29},{"g":"loop","o":9,"b":15.183,"p":9223.36},{"g":"loop","o":10,"b":16.587,"p":9223.36},{"g":"loop","o":11,"b":17.106,"p":9223.21},{"g":"loop","o":12,"b":17.683,"p":9222.99},{"g":"loop","o":13,"b":23.452,"p":9222.91},{"g":"loop","o":14,"b":24.029,"p":9222.69},{"g":"loop","o":15,"b":27.317,"p":9222.39},{"g":"loop","o":16,"b":29.279,"p":9222.39},{"g":"loop","o":17,"b":29.606,"p":9222.25},{"g":"loop","o":18,"b":30.779,"p":9221.95},{"g":"loop","o":19,"b":31.125,"p":9221.28},{"g":"loop","o":20,"b":31.721,"p":9220.76},{"g":"loop","o":21,"b":32.106,"p":9220.53},{"g":"loop","o":22,"b":33.01,"p":9220.53},{"g":"loop","o":23,"b":33.375,"p":9220.09},{"g":"loop","o":24,"b":33.913,"p":9219.42},{"g":"loop","o":25,"b":34.24,"p":9218.75},{"g":"loop","o":26,"b":34.433,"p":9216.74},{"g":"loop","o":27,"b":34.51,"p":9214.13},{"g":"loop","o":28,"b":34.625,"p":9213.76},{"g":"loop","o":29,"b":34.625,"p":9212.57},{"g":"loop","o":30,"b":33.99,"p":9212.35},{"g":"loop","o":31,"b":33.3,"p":9211.61},{"g":"loop","o":32,"b":32.279,"p":9211.23},{"g":"loop","o":33,"b":28.183,"p":9211.31},{"g":"loop","o":34,"b":26.221,"p":9211.46},{"g":"loop","o":35,"b":25.433,"p":9211.83},{"g":"loop","o":36,"b":24.49,"p":9211.9},{"g":"loop","o":37,"b":23.971,"p":9212.2},{"g":"loop","o":38,"b":22.875,"p":9212.13},{"g":"loop","o":39,"b":22.394,"p":9212.5},{"g":"loop","o":40,"b":20.51,"p":9212.5},{"g":"loop","o":41,"b":19.644,"p":9212.27},{"g":"loop","o":42,"b":11.721,"p":9212.27},{"g":"loop","o":43,"b":9.221,"p":9212.72},{"g":"loop","o":44,"b":6.875,"p":9213.02},{"g":"loop","o":45,"b":3.337,"p":9213.24},{"g":"loop","o":46,"b":2.163,"p":9213.39},{"g":"loop","o":47,"b":0.74,"p":9213.76},{"g":"loop","o":48,"b":-0.587,"p":9213.91}],
"crossh":[{"b":-0.548,"e":33,"p":9237.04,"k":"pink"},{"b":33,"e":35.471,"p":9237.04,"k":"white"}],
"crossv":[{"b":14.02,"p":9263.54,"p2":9207.22}],
"boxes":[{"b":12.875,"e":15.144,"p":9206.92,"p2":9205.8},{"b":35.567,"e":36.202,"p":9237.55,"p2":9236.55},{"b":35.529,"e":36.202,"p":9234.5,"p2":9233.5}],
"boxtext":[{"b":14.01,"p":9206.35,"t":"2014-11-14\u00a0\u00a016:16:05"},{"b":35.885,"p":9237.04,"t":"9237.0"},{"b":35.865,"p":9234,"t":"9234.0"}]
},
"encoding":{"x":{"field":"b","type":"quantitative","scale":{"domain":[-0.58654,36.33654],"nice":false,"zero":false,"padding":0},"axis":{"orient":"bottom","offset":-95,"zindex":1,"values":[0,1,2,3,4,5,6,7,8,9,10,11,12,13,14,15,16,17,18,19,20,21,22,23,24,25,26,27,28,29,30,31,32,33,34],"tickSize":4,"labelPadding":1,"labelOverlap":false,"labelFlush":false,"labelBound":false,"labelExpr":"datum.value>=13&&datum.value<=15?'':['15:11:14','15:18:28','15:21:06','15:25:10','15:35:03','15:44:44','15:49:16','15:52:23','15:55:36','15:58:32','16:01:54','16:03:13','16:05:58','','','','16:27:37','16:28:28','16:32:29','16:34:52','16:39:13','16:43:15','16:48:53','16:56:48','17:10:54','17:28:47','17:33:05','17:40:32','17:55:25','18:11:27','20:05:52','20:54:12','21:35:21','21:53:04','22:13:52'][datum.value]"}}},
"resolve":{"scale":{"y":"independent","fill":"independent","stroke":"independent","color":"independent"}},
"layer":[
{"encoding":{"y":{"field":"p","type":"quantitative","scale":{"domain":[9200.147,9280.504],"nice":false,"zero":false,"padding":0},"axis":{"orient":"right","offset":-45,"zindex":1,"values":[9222,9224,9226,9228,9230,9232,9234,9236,9238,9240,9242,9244,9246,9248,9250,9252,9254,9256,9258,9260,9262],"tickSize":4,"labelPadding":1,"labelExpr":"datum.value==9234?'':format(datum.value,'.1f')"}}},
"resolve":{"scale":{"fill":"independent","stroke":"independent","color":"independent"}},
"layer":[
{"data":{"name":"chrome"},"mark":{"type":"rect"},"encoding":{"x2":{"field":"e"},"y2":{"field":"p2"},"fill":{"field":"k","type":"nominal","legend":null,"scale":{"domain":["edge","panel","scroll","thumb","count"],"range":["#808080","#000000","#eeeeee","#c8c8c8","#00c000"]}}}},
{"data":{"name":"teal"},"mark":{"type":"area","color":"#004040","interpolate":"linear"},"encoding":{"y2":{"field":"p2"}}},
{"data":{"name":"tabs"},"mark":{"type":"rect","stroke":"#808080","strokeWidth":1},"encoding":{"x2":{"field":"e"},"y2":{"field":"p2"},"fill":{"field":"k","type":"nominal","legend":null,"scale":{"domain":["tab","active"],"range":["#f0f0f0","#3399ff"]}}}},
{"data":{"name":"notes"},"mark":{"type":"text","align":"center","baseline":"middle"},"encoding":{"text":{"field":"t"},"color":{"field":"k","type":"nominal","legend":null,"scale":{"domain":["black","white","gray"],"range":["#000000","#ffffff","#505050"]}}}},
{"data":{"name":"profile"},"mark":{"type":"bar","orient":"horizontal","size":12,"strokeWidth":1.5},"encoding":{"x2":{"datum":35.446},"fill":{"field":"k","type":"nominal","legend":null,"scale":{"domain":["vol","poc","ask","bid"],"range":["#808080","#ffff00","#005c00","#700000"]}},"stroke":{"field":"k","type":"nominal","legend":null,"scale":{"domain":["vol","poc","ask","bid"],"range":["#00e5f0","#ffff00","#707070","#707070"]}}}},
{"data":{"name":"covers"},"mark":{"type":"rect","color":"#000000"},"encoding":{"x2":{"field":"e"},"y2":{"field":"p2"}}},
{"data":{"name":"proflabels"},"mark":{"type":"text","align":"right","baseline":"middle"},"encoding":{"text":{"field":"t"},"color":{"field":"k","type":"nominal","legend":null,"scale":{"domain":["cyan","yellow","blue"],"range":["#00c8d0","#e8ff80","#0000e0"]}}}},
{"data":{"name":"fp"},"transform":[{"filter":"!datum.big"}],"mark":{"type":"text","align":"center","baseline":"middle","dx":-15,"color":"#c0f4f4","limit":25,"ellipsis":"\u200b"},"encoding":{"text":{"field":"t"}}},
{"data":{"name":"fp"},"transform":[{"filter":"datum.big"}],"mark":{"type":"text","align":"center","baseline":"middle","dx":-15,"color":"#d8ffff","fontSize":13,"fontWeight":"bold"},"encoding":{"text":{"field":"t"}}},
{"data":{"name":"fp"},"transform":[{"filter":"datum.k"}],"mark":{"type":"rect","width":5,"height":12},"encoding":{"fill":{"field":"k","type":"nominal","legend":null,"scale":{"domain":["u","d"],"range":["#00ff50","#c04040"]}}}},
{"data":{"name":"fp"},"mark":{"type":"bar","orient":"horizontal","size":12,"xOffset":5.5,"x2Offset":5.5},"encoding":{"x2":{"field":"e"},"fill":{"field":"s","type":"nominal","legend":null,"scale":{"domain":["g1","g2","g3","r1","r2","r3","g4","g5","r4","r5"],"range":["#00ff40","#05c840","#08a040","#c04040","#9a4040","#604040","#00ff00","#00d000","#800000","#ff0000"]}}}},
{"data":{"name":"levels"},"mark":{"type":"rule","strokeWidth":3},"encoding":{"x2":{"field":"e"},"stroke":{"field":"k","type":"nominal","legend":null,"scale":{"domain":["poc","prior"],"range":["#ffff80","#b8ff90"]}}}},
{"data":{"name":"current"},"mark":{"type":"rule","strokeWidth":2,"color":"#10d83c","strokeDash":[8,3,3,3,3,3]},"encoding":{"x2":{"field":"e"}}},
{"data":{"name":"valow"},"mark":{"type":"rule","strokeWidth":1.5,"color":"#000000"},"encoding":{"x2":{"field":"e"}}},
{"data":{"name":"valow"},"mark":{"type":"rule","strokeWidth":1.5,"color":"#0000c8","strokeDash":[20,4]},"encoding":{"x2":{"field":"e"}}},
{"data":{"name":"frameh"},"mark":{"type":"rule","strokeWidth":1,"color":"#ffffff"},"encoding":{"x2":{"field":"e"}}},
{"data":{"name":"framev"},"mark":{"type":"rule","strokeWidth":1,"color":"#ffffff"},"encoding":{"y2":{"field":"p2"}}}
]},
{"data":{"name":"table"},"mark":{"type":"text","align":"center","baseline":"middle"},"encoding":{"text":{"field":"v"},"y":{"field":"m","type":"nominal","axis":null,"scale":{"type":"point","padding":0,"domain":["Delta","Ask","Bid","Cum","Total"],"range":[822.7,894.7]}},"color":{"field":"k","type":"nominal","legend":null,"scale":{"domain":["up","down","flat"],"range":["#00ff00","#ff0000","#ffffff"]}}}},
{"data":{"name":"rowlabels"},"mark":{"type":"text","align":"left","baseline":"middle"},"encoding":{"text":{"field":"v"},"y":{"field":"m","type":"nominal","axis":null,"scale":{"type":"point","padding":0,"domain":["Delta","Ask","Bid","Cum","Total"],"range":[822.7,894.7]}},"color":{"field":"k","type":"nominal","legend":null,"scale":{"domain":["up","flat"],"range":["#00ff00","#ffffff"]}}}},
{"encoding":{"y":{"field":"c","type":"quantitative","scale":{"domain":[-30,30],"range":[1035,879],"nice":false,"zero":false},"axis":{"orient":"right","offset":-45,"zindex":1,"values":[0],"tickSize":4,"labelPadding":1}}},
"layer":[
{"data":{"name":"candles"},"mark":{"type":"rule","strokeWidth":1.6},"encoding":{"y":{"field":"l","type":"quantitative"},"y2":{"field":"h"},"stroke":{"field":"d","type":"nominal","legend":null,"scale":{"domain":["up","down"],"range":["#00ff00","#ff0000"]}}}},
{"data":{"name":"candles"},"mark":{"type":"bar","orient":"vertical","size":31,"strokeWidth":2},"encoding":{"y2":{"field":"o"},"stroke":{"field":"d","type":"nominal","legend":null,"scale":{"domain":["up","down"],"range":["#00ff00","#ff0000"]}},"fill":{"field":"d","type":"nominal","legend":null,"scale":{"domain":["up","down"],"range":["#008000","#800000"]}}}}
]},
{"encoding":{"y":{"field":"p","type":"quantitative","axis":null,"scale":{"domain":[9200.147,9280.504],"nice":false,"zero":false}}},
"resolve":{"scale":{"color":"independent","stroke":"independent"}},
"layer":[
{"data":{"name":"panelhead"},"mark":{"type":"text","align":"left","baseline":"middle"},"encoding":{"text":{"field":"t"},"color":{"field":"k","type":"nominal","legend":null,"scale":{"domain":["white","green","dkgreen","red","dkred"],"range":["#ffffff","#00ff00","#008000","#ff0000","#800000"]}}}},
{"data":{"name":"curve"},"mark":{"type":"line","strokeWidth":4,"color":"#ed1c24","interpolate":"linear"},"encoding":{"detail":{"field":"g"},"order":{"field":"o","type":"quantitative"}}},
{"data":{"name":"crossh"},"mark":{"type":"rule","strokeWidth":1},"encoding":{"x2":{"field":"e"},"stroke":{"field":"k","type":"nominal","legend":null,"scale":{"domain":["pink","white"],"range":["#ffc0c0","#ffffff"]}}}},
{"data":{"name":"crossv"},"mark":{"type":"rule","strokeWidth":1,"color":"#dddddd"},"encoding":{"y2":{"field":"p2"}}},
{"data":{"name":"boxes"},"mark":{"type":"rect","color":"#ffffff"},"encoding":{"x2":{"field":"e"},"y2":{"field":"p2"}}},
{"data":{"name":"boxtext"},"mark":{"type":"text","align":"center","baseline":"middle","color":"#000000"},"encoding":{"text":{"field":"t"}}}
]}
]}
